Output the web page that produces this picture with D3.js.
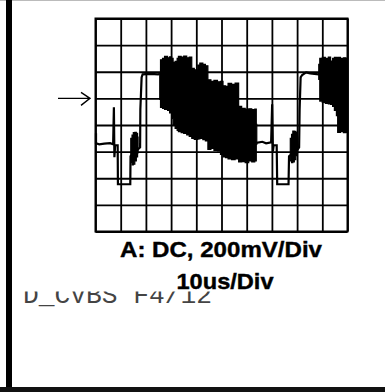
<!DOCTYPE html>
<html><head><meta charset="utf-8">
<script src="https://cdn.jsdelivr.net/npm/d3@7/dist/d3.min.js"></script>
<style>html,body{margin:0;padding:0;background:#fff;overflow:hidden}</style>
</head><body><svg id="c" width="385" height="392"></svg>
<script>
// ---- data (time in µs, voltage in mV relative to ground marker) ----
const timeTicks = [0, 10, 20, 30, 40, 50, 60, 70, 80, 90, 100];
const voltTicks = [-1000, -800, -600, -400, -200, 0, 200, 400, 600];
const groundLevel = 0;
const titleLine1 = "A: DC, 200mV/Div";
const titleLine2 = "10us/Div";
const fileLabel = "D_CVBS F4/12";

// thin trace segments [t, mV]
const traceA = [[0.2,-262],[0.2,-337],[1.5,-345],[3.5,-340],[5.8,-337],[7.0,-345],[7.3,-67],[7.5,-442],[7.8,-352],[8.8,-352],[8.9,-645],[13.8,-645],[13.9,-435],[16.9,-382],[17.7,-367],[17.8,-82],[18.3,158],[18.7,180],[21.7,184],[24.9,180],[25.6,188]];
const traceB = [[63.8,-334],[66.2,-326],[67.7,-338],[69.7,-330],[70.1,-45],[70.4,-398],[70.7,-352],[71.9,-352],[72.1,-645],[76.6,-645],[76.8,-435],[80.2,-383],[80.8,-368],[81.0,-83],[81.4,158],[82.0,176],[83.6,195],[85.2,188],[88.4,180],[88.8,188]];

// noisy envelopes [t, min mV, max mV]
const burst1 = [[14.0,-480,-300],[14.5,-500,-275],[15.0,-495,-258],[15.6,-470,-255],[16.2,-440,-262],[16.7,-410,-290],[16.9,-410,-290]];
const burst2 = [[77.3,-470,-300],[77.8,-482,-270],[78.3,-478,-245],[78.9,-460,-248],[79.5,-430,-255],[80.0,-410,-290],[80.2,-410,-290]];
const video1 = [[25.5,-8,180],[25.8,-68,290],[26.6,-75,300],[27.4,-83,315],[28.6,-90,305],[29.4,-110,312],[30.2,-150,300],[30.8,-195,270],[31.6,-225,278],[32.4,-240,300],[32.9,-250,315],[34.0,-258,310],[35.0,-263,318],[36.2,-275,305],[37.2,-285,310],[38.2,-300,225],[39.2,-308,215],[40.6,-305,250],[41.4,-300,265],[42.6,-310,255],[43.6,-320,245],[44.6,-383,140],[45.8,-375,128],[47.0,-390,135],[48.4,-395,125],[49.6,-420,128],[50.6,-440,95],[51.6,-445,90],[52.6,-455,112],[54.0,-460,105],[55.4,-455,115],[56.8,-478,-60],[58.0,-475,-75],[59.4,-482,-83],[60.8,-470,-78],[62.0,-478,-85],[63.2,-470,-80],[63.8,-345,-195],[64.0,-345,-195]];
const video2 = [[88.6,143,255],[89.0,-20,300],[90.0,-30,308],[91.2,-38,300],[92.4,-42,310],[93.3,-45,280],[94.1,-60,300],[94.8,-90,308],[95.6,-130,305],[96.1,-255,308],[97.2,-250,300],[98.4,-258,305],[99.4,-255,300],[99.6,-255,300]];

// ---- drawing ----
const svg = d3.select("#c");
const L = 95.5, R = 347.5, T = 18.5, B = 231.5;
const x = d3.scaleLinear().domain([0, 100]).range([L, R]);
const y = d3.scaleLinear().domain([-1000, 600]).range([B, T]);

svg.append("rect").attr("width",385).attr("height",392).attr("fill","#fff");
// frame pieces
svg.append("rect").attr("x",0).attr("y",0).attr("width",385).attr("height",1).attr("fill","#bbb");
svg.append("rect").attr("x",6).attr("y",0).attr("width",6).attr("height",392).attr("fill","#000");
svg.append("rect").attr("x",0).attr("y",387).attr("width",385).attr("height",5).attr("fill","#111");

// grid via axes
const gx = svg.append("g").attr("transform",`translate(0,${B})`)
  .call(d3.axisBottom(x).tickValues(timeTicks).tickSize(-(B-T)).tickFormat(""));
const gy = svg.append("g").attr("transform",`translate(${L},0)`)
  .call(d3.axisLeft(y).tickValues(voltTicks).tickSize(-(R-L)).tickFormat(""));
[gx, gy].forEach(g => {
  g.select(".domain").remove();
  g.selectAll(".tick line").attr("stroke","#000").attr("stroke-width",1.8);
});
svg.append("rect").attr("x",L).attr("y",T).attr("width",R-L).attr("height",B-T)
  .attr("fill","none").attr("stroke","#000").attr("stroke-width",2);

// ground marker arrow
const gy0 = y(groundLevel);
svg.append("path")
  .attr("d",`M58,${gy0} L90,${gy0} M81,${gy0-6} L90,${gy0} L81,${gy0+7}`)
  .attr("fill","none").attr("stroke","#000").attr("stroke-width",1.4);

// trace
const line = d3.line().x(d=>x(d[0])).y(d=>y(d[1]));
const area = d3.area().x(d=>x(d[0])).y0(d=>y(d[1])).y1(d=>y(d[2])).curve(d3.curveStepAfter);
[traceA, traceB].forEach(tr => svg.append("path").attr("d", line(tr))
  .attr("fill","none").attr("stroke","#000").attr("stroke-width",2.2));
[burst1, burst2, video1, video2].forEach(a => svg.append("path").attr("d", area(a))
  .attr("fill","#000").attr("stroke","#000").attr("stroke-width",1.2));

// labels
svg.append("defs").append("clipPath").attr("id","clipLbl")
  .append("rect").attr("x",0).attr("y",291.5).attr("width",385).attr("height",40);
svg.append("text").attr("x",23).attr("y",302.5).attr("clip-path","url(#clipLbl)")
  .attr("font-family","'Liberation Mono','DejaVu Sans Mono',monospace").attr("font-size",25)
  .attr("fill","#444").attr("textLength",189).attr("lengthAdjust","spacingAndGlyphs")
  .text(fileLabel);
svg.append("text").attr("x",221).attr("y",257).attr("text-anchor","middle")
  .attr("font-family","'Liberation Sans',Arial,sans-serif").attr("font-weight","bold")
  .attr("font-size",22).attr("textLength",202).attr("lengthAdjust","spacingAndGlyphs")
  .attr("fill","#000").attr("stroke","#000").attr("stroke-width",0.4).text(titleLine1);
svg.append("text").attr("x",225).attr("y",289).attr("text-anchor","middle")
  .attr("font-family","'Liberation Sans',Arial,sans-serif").attr("font-weight","bold")
  .attr("font-size",22).attr("textLength",97).attr("lengthAdjust","spacingAndGlyphs")
  .attr("fill","#000").attr("stroke","#000").attr("stroke-width",0.4).text(titleLine2);
</script></body></html>
